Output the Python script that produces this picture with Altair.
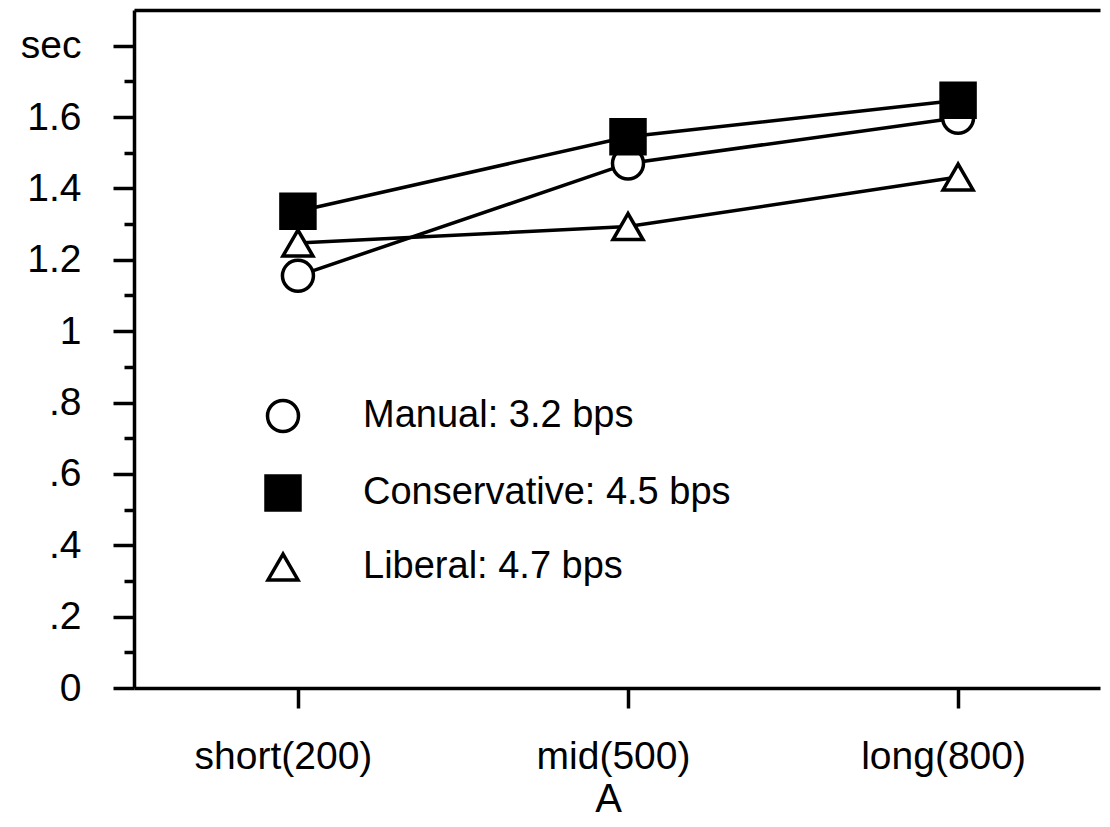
import altair as alt
import pandas as pd

# ---- data ----
categories = ["short(200)", "mid(500)", "long(800)"]
cat_x = [200, 500, 800]
series_names = ["Manual: 3.2 bps", "Conservative: 4.5 bps", "Liberal: 4.7 bps"]
manual = [1.155, 1.47, 1.598]
conservative = [1.336, 1.545, 1.647]
liberal = [1.247, 1.293, 1.432]
y_major = [0.0, 0.2, 0.4, 0.6, 0.8, 1.0, 1.2, 1.4, 1.6, 1.8]
y_major_labels = ["0", ".2", ".4", ".6", ".8", "1", "1.2", "1.4", "1.6", "sec"]
y_minor = [0.1, 0.3, 0.5, 0.7, 0.9, 1.1, 1.3, 1.5, 1.7]
x_title = "A"

FONT = "Liberation Sans"

rows = []
# draw order: Liberal, Manual, then Conservative on top
for name, vals in [(series_names[2], liberal), (series_names[0], manual), (series_names[1], conservative)]:
    for x, v in zip(cat_x, vals):
        rows.append({"series": name, "x": x, "sec": v})
df = pd.DataFrame(rows)

# label expressions
x_expr = "''"
for v, lab in reversed(list(zip(cat_x, categories))):
    x_expr = f"datum.value == {v} ? '{lab}' : ({x_expr})"
y_expr = "''"
for v, lab in reversed(list(zip(y_major, y_major_labels))):
    y_expr = f"round(datum.value*10) == {round(v*10)} ? '{lab}' : ({y_expr})"

xscale = alt.Scale(domain=[51, 929], nice=False, zero=False)
yscale = alt.Scale(domain=[0, 1.9], nice=False, zero=True)

lines = alt.Chart(df).mark_line(color="black", strokeWidth=3.5).encode(
    x=alt.X("x:Q", scale=xscale, axis=alt.Axis(
        orient="bottom", values=cat_x, labelExpr=x_expr, tickSize=20, tickWidth=3.5,
        tickColor="black", domainWidth=3.5, domainColor="black", labelFont=FONT,
        labelFontSize=39, labelColor="black", labelPadding=29, labelFlush=False,
        labelOffset=-15, labelOverlap=False, grid=False, title=x_title, titleFont=FONT,
        titleFontSize=40, titleFontWeight="normal", titleColor="black", titleX=474,
        titleY=123, titleAlign="center", titleBaseline="alphabetic")),
    y=alt.Y("sec:Q", scale=yscale, axis=alt.Axis(
        orient="left", values=y_major, labelExpr=y_expr, tickSize=21, tickWidth=3.5,
        tickColor="black", domainWidth=3.5, domainColor="black", labelFont=FONT,
        labelFontSize=39, labelColor="black", labelPadding=32, labelFlush=False,
        labelOverlap=False, grid=False, title=None)),
    detail="series:N",
)

points = alt.Chart(df).mark_point(filled=True, opacity=1, strokeWidth=3.5).encode(
    x=alt.X("x:Q", scale=xscale, axis=alt.Axis(
        orient="top", labels=False, ticks=False, domainWidth=3.5, domainColor="black",
        grid=False, title=None)),
    y=alt.Y("sec:Q", scale=yscale, axis=alt.Axis(
        orient="left", values=y_minor, labels=False, domain=False, tickSize=10,
        tickWidth=3.5, tickColor="black", grid=False, title=None)),
    shape=alt.Shape("series:N", scale=alt.Scale(domain=series_names,
                    range=["circle", "square", "triangle-up"]), title=None),
    fill=alt.Fill("series:N", scale=alt.Scale(domain=series_names,
                  range=["white", "black", "white"]), title=None),
    stroke=alt.Stroke("series:N", scale=alt.Scale(domain=series_names,
                      range=["black", "black", "black"]), title=None),
    size=alt.Size("series:N", scale=alt.Scale(type="ordinal", domain=series_names,
                  range=[961, 1156, 900]), title=None),
)

chart = alt.layer(lines, points).resolve_axis(
    x="independent", y="independent"
).properties(
    width=966, height=678,
    padding={"left": 126, "top": 2, "right": 2, "bottom": 130},
    autosize=alt.AutoSizeParams(type="none"),
    background="white",
).configure_view(stroke=None).configure_legend(
    orient="none", legendX=130, legendY=387, padding=0, rowPadding=30,
    labelFont=FONT, labelFontSize=38, labelColor="black", labelOffset=61,
    symbolStrokeWidth=3.5, symbolOpacity=1, labelLimit=600,
)

chart.save("out.html", embed_options={"renderer": "svg", "actions": False})
